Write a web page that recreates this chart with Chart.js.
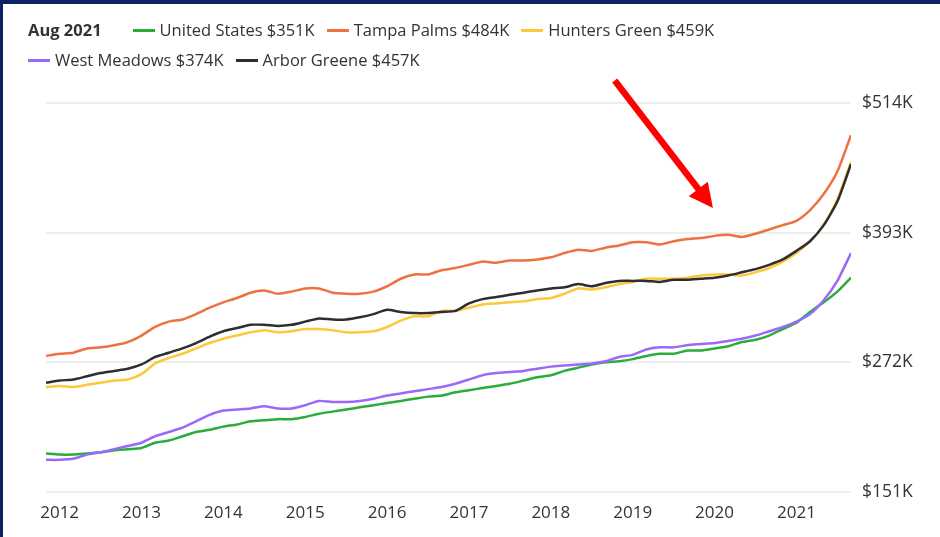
<!DOCTYPE html>
<html>
<head>
<meta charset="utf-8">
<script src="https://cdn.jsdelivr.net/npm/chart.js@4.4.1/dist/chart.umd.min.js"></script>
<style>
  html, body { margin: 0; padding: 0; background: #fff; }
  #wrap { position: relative; width: 940px; height: 537px; overflow: hidden; background: #fff; font-family: "Open Sans", sans-serif; }
  #chart { position: absolute; left: 0; top: 0; }
  #frame { position: absolute; left: 0; top: 0; width: 940px; height: 537px; box-sizing: border-box;
           border-left: 3px solid #0b2263; border-top: 4px solid #0b2263; pointer-events: none; }
  #legend { position: absolute; left: 28px; top: 19px; width: 730px; display: flex; flex-wrap: wrap;
            align-items: center; row-gap: 8px; font-size: 16.5px; line-height: 22px; color: #333; }
  #legend .date { font-weight: 700; margin-right: 31px; }
  #legend .item { display: flex; align-items: center; margin-right: 12px; white-space: nowrap; }
  #legend .swatch { width: 22px; height: 3px; margin-right: 5px; }
</style>
</head>
<body>
<div id="wrap">
  <canvas id="chart" width="940" height="537"></canvas>
  <div id="legend"></div>
  <div id="frame"></div>
</div>
<script>
// Months sampled every two months, Oct 2011 .. Aug 2021
const months = [
  "2011-10","2011-12",
  "2012-02","2012-04","2012-06","2012-08","2012-10","2012-12",
  "2013-02","2013-04","2013-06","2013-08","2013-10","2013-12",
  "2014-02","2014-04","2014-06","2014-08","2014-10","2014-12",
  "2015-02","2015-04","2015-06","2015-08","2015-10","2015-12",
  "2016-02","2016-04","2016-06","2016-08","2016-10","2016-12",
  "2017-02","2017-04","2017-06","2017-08","2017-10","2017-12",
  "2018-02","2018-04","2018-06","2018-08","2018-10","2018-12",
  "2019-02","2019-04","2019-06","2019-08","2019-10","2019-12",
  "2020-02","2020-04","2020-06","2020-08","2020-10","2020-12",
  "2021-02","2021-04","2021-06","2021-08"
];

// Median home values, $K
const unitedStates = [187,186,186,187,188,190,191,192,197,199,203,207,209,212,214,217,218,219,219,221,
  224,226,228,230,232,234,236,238,240,241,244,246,248,250,252,255,258,260,264,267,
  270,272,273,275,278,280,280,283,283,285,287,291,293,297,303,309,319,328,338,351];
const tampaPalms = [278,280,281,285,286,288,291,297,305,310,312,317,323,328,332,337,339,336,338,341,
  341,337,336,336,338,343,350,354,354,358,360,363,366,365,367,367,368,370,374,377,
  376,379,381,384,384,382,385,387,388,390,391,389,392,396,400,404,414,429,450,484];
const huntersGreen = [249,250,249,251,253,255,256,261,271,276,280,285,290,294,297,300,302,300,301,303,
  303,302,300,300,301,305,311,315,315,320,320,323,326,327,328,329,331,332,336,341,
  340,342,345,347,350,350,350,351,353,354,354,353,356,360,366,374,385,400,424,459];
const westMeadows = [181,181,182,186,188,191,194,197,203,207,211,217,223,227,228,229,231,229,229,232,
  236,235,235,236,238,241,243,245,247,249,252,256,260,262,263,264,266,268,269,270,
  271,273,277,279,284,286,286,288,289,290,292,294,297,301,305,310,317,330,348,374];
const arborGreene = [253,255,256,259,262,264,266,270,277,281,285,290,296,301,304,307,307,306,307,310,
  313,312,312,314,317,321,319,318,318,319,320,327,331,333,335,337,339,341,342,345,
  343,346,348,348,348,347,349,349,350,351,353,356,359,363,368,376,385,400,422,457];

const xTickYears = [2012, 2013, 2014, 2015, 2016, 2017, 2018, 2019, 2020, 2021];
const yTicks = [151, 272, 393, 514];
const legendDate = "Aug 2021";

// red arrow annotation, in data units (year, $K)
const arrowFrom = { x: 2018.78, y: 535 };
const arrowTo = { x: 2019.98, y: 416 };

const toYear = m => Number(m.slice(0, 4)) + Number(m.slice(5, 7)) / 12;
const points = vals => vals.map((v, i) => ({ x: toYear(months[i]), y: v }));

const series = [
  { name: "United States", values: unitedStates, color: "#29ad3c", order: 3 },
  { name: "Tampa Palms", values: tampaPalms, color: "#ee7140", order: 4 },
  { name: "Hunters Green", values: huntersGreen, color: "#fcc83c", order: 2 },
  { name: "West Meadows", values: westMeadows, color: "#9c68fb", order: 1 },
  { name: "Arbor Greene", values: arborGreene, color: "#2e2e30", order: 0 }
];

// html legend
const legend = document.getElementById("legend");
legend.innerHTML = '<span class="date">' + legendDate + '</span>' +
  series.map(s => '<span class="item"><span class="swatch" style="background:' + s.color + '"></span>' +
    s.name + ' $' + s.values[s.values.length - 1] + 'K</span>').join("");

const arrowPlugin = {
  id: "arrow",
  afterDraw(chart) {
    const { ctx, scales: { x, y } } = chart;
    const x1 = x.getPixelForValue(arrowFrom.x), y1 = y.getPixelForValue(arrowFrom.y);
    const x2 = x.getPixelForValue(arrowTo.x), y2 = y.getPixelForValue(arrowTo.y);
    const a = Math.atan2(y2 - y1, x2 - x1);
    const headLen = 24, headW = 12;
    const bx = x2 - headLen * Math.cos(a), by = y2 - headLen * Math.sin(a);
    ctx.save();
    ctx.strokeStyle = "#ff0000";
    ctx.fillStyle = "#ff0000";
    ctx.lineWidth = 6.5;
    ctx.beginPath();
    ctx.moveTo(x1, y1);
    ctx.lineTo(bx + 2 * Math.cos(a), by + 2 * Math.sin(a));
    ctx.stroke();
    ctx.beginPath();
    ctx.moveTo(x2, y2);
    ctx.lineTo(bx + headW * Math.sin(a), by - headW * Math.cos(a));
    ctx.lineTo(bx - headW * Math.sin(a), by + headW * Math.cos(a));
    ctx.closePath();
    ctx.fill();
    ctx.restore();
  }
};

new Chart(document.getElementById("chart"), {
  type: "line",
  data: {
    datasets: series.map(s => ({
      label: s.name,
      data: points(s.values),
      borderColor: s.color,
      backgroundColor: s.color,
      borderWidth: 2.5,
      pointRadius: 0,
      tension: 0.2,
      order: s.order
    }))
  },
  options: {
    responsive: false,
    devicePixelRatio: 1,
    animation: false,
    layout: { padding: { left: 46, top: 103, right: 0, bottom: 0 } },
    plugins: { legend: { display: false }, tooltip: { enabled: false } },
    scales: {
      x: {
        type: "linear",
        min: toYear(months[0]),
        max: toYear(months[months.length - 1]),
        grid: { display: false, drawTicks: false },
        border: { display: false },
        afterBuildTicks: scale => { scale.ticks = xTickYears.map(v => ({ value: v })); },
        afterFit: scale => { scale.height = 45; },
        ticks: { font: { family: "'Open Sans', sans-serif", size: 17 }, color: "#333", padding: 11,
                 maxRotation: 0, callback: v => String(v) }
      },
      y: {
        position: "right",
        min: 151,
        max: 514,
        grid: { color: "#eeeeee", lineWidth: 2, drawTicks: false },
        border: { display: false },
        afterBuildTicks: scale => { scale.ticks = yTicks.map(v => ({ value: v })); },
        afterFit: scale => { scale.width = 89; },
        ticks: { font: { family: "'Open Sans', sans-serif", size: 17.5 }, color: "#333", padding: 11,
                 callback: v => "$" + v + "K" }
      }
    }
  },
  plugins: [arrowPlugin]
});
</script>
</body>
</html>
